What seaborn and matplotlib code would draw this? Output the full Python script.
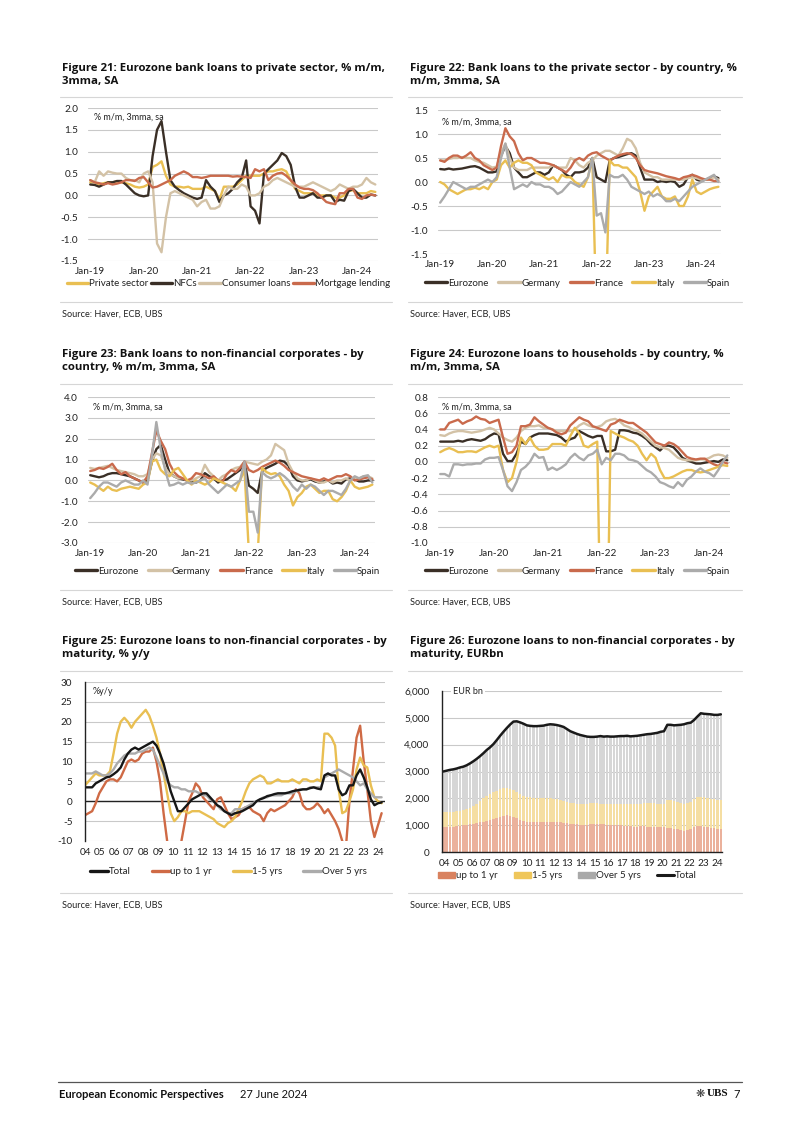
import numpy as np
import pandas as pd
import matplotlib
matplotlib.use('Agg')
import matplotlib.pyplot as plt
import matplotlib.patches as mpatches
from matplotlib.lines import Line2D
import seaborn as sns

sns.set_theme(style='white')
plt.rcParams['font.family'] = ['Lato', 'DejaVu Sans']
plt.rcParams['axes.unicode_minus'] = False

# ---------------- data ----------------
month_ticks = ['Jan-19', 'Jan-20', 'Jan-21', 'Jan-22', 'Jan-23', 'Jan-24']

# Figure 21 (monthly, Jan-19 .. May-24)
f21_names = ['Private sector', 'NFCs', 'Consumer loans', 'Mortgage lending']
f21_private = [0.3, 0.3, 0.25, 0.28, 0.3, 0.3, 0.32, 0.3, 0.28, 0.25, 0.2, 0.18,
               0.2, 0.25, 0.65, 0.7, 0.78, 0.45, 0.25, 0.2, 0.2, 0.18, 0.2, 0.15,
               0.15, 0.15, 0.2, 0.15, 0.1, -0.1, 0.2, 0.2, 0.2, 0.25, 0.35, 0.45,
               0.45, 0.45, 0.45, 0.5, 0.55, 0.55, 0.58, 0.6, 0.55, 0.35, 0.15, 0.1,
               0.05, 0.05, 0.05, 0.0, 0.0, 0.0, 0.0, -0.05, -0.05, 0.0, 0.1, 0.12,
               0.05, 0.05, 0.05, 0.1, 0.08]
f21_nfc = [0.25, 0.24, 0.2, 0.25, 0.3, 0.3, 0.33, 0.33, 0.25, 0.15, 0.05, 0.0,
           -0.02, 0.0, 0.9, 1.5, 1.7, 1.0, 0.35, 0.2, 0.12, 0.05, 0.0, -0.05,
           -0.08, -0.05, 0.35, 0.2, 0.1, -0.15, 0.0, 0.05, 0.15, 0.3, 0.4, 0.8,
           -0.25, -0.35, -0.64, 0.5, 0.6, 0.7, 0.8, 0.97, 0.9, 0.7, 0.2, -0.05,
           -0.05, 0.0, 0.05, -0.05, -0.05, 0.0, 0.0, -0.15, -0.1, -0.12, 0.1, 0.15,
           0.05, -0.05, -0.05, 0.02, 0.0]
f21_consumer = [0.35, 0.3, 0.55, 0.45, 0.55, 0.52, 0.5, 0.5, 0.4, 0.35, 0.35, 0.3,
                0.5, 0.55, 0.3, -1.1, -1.3, -0.5, 0.05, 0.1, 0.05, 0.0, -0.05, -0.1,
                -0.25, -0.15, -0.1, -0.3, -0.3, -0.25, 0.0, 0.2, 0.15, 0.15, 0.25, 0.2,
                0.0, 0.0, 0.05, 0.2, 0.25, 0.35, 0.4, 0.35, 0.3, 0.25, 0.2, 0.2,
                0.2, 0.25, 0.3, 0.25, 0.2, 0.15, 0.1, 0.15, 0.25, 0.2, 0.15, 0.2,
                0.2, 0.25, 0.4, 0.3, 0.25]
f21_mortgage = [0.35, 0.3, 0.28, 0.25, 0.28, 0.25, 0.27, 0.3, 0.35, 0.35, 0.33, 0.4,
                0.42, 0.3, 0.18, 0.2, 0.25, 0.3, 0.35, 0.45, 0.5, 0.55, 0.5, 0.42,
                0.42, 0.4, 0.42, 0.45, 0.45, 0.45, 0.45, 0.45, 0.43, 0.44, 0.43, 0.42,
                0.4, 0.6, 0.55, 0.6, 0.35, 0.45, 0.5, 0.52, 0.45, 0.35, 0.25, 0.18,
                0.15, 0.15, 0.12, 0.05, -0.05, -0.15, -0.18, -0.2, 0.05, 0.05, 0.15, 0.15,
                -0.05, -0.08, 0.0, 0.02, 0.0]

country_names = ['Eurozone', 'Germany', 'France', 'Italy', 'Spain']

# Figure 22
f22_ez = [0.27, 0.26, 0.28, 0.26, 0.27, 0.28, 0.3, 0.32, 0.33, 0.3, 0.25, 0.2,
          0.2, 0.22, 0.55, 0.75, 0.6, 0.3, 0.2, 0.1, 0.1, 0.15, 0.2, 0.2,
          0.15, 0.2, 0.35, 0.3, 0.25, 0.15, 0.1, 0.2, 0.2, 0.22, 0.3, 0.5,
          0.1, 0.05, 0.0, 0.45, 0.5, 0.52, 0.55, 0.58, 0.6, 0.55, 0.3, 0.05,
          0.05, 0.05, 0.0, 0.02, 0.0, 0.02, 0.0, -0.1, -0.05, 0.1, 0.15, 0.05,
          0.02, 0.05, 0.08, 0.12, 0.08]
f22_de = [0.45, 0.45, 0.48, 0.5, 0.5, 0.52, 0.5, 0.5, 0.45, 0.42, 0.4, 0.35,
          0.3, 0.32, 0.6, 0.8, 0.5, 0.3, 0.25, 0.25, 0.25, 0.3, 0.3, 0.3,
          0.3, 0.3, 0.35, 0.3, 0.3, 0.3, 0.5, 0.45, 0.35, 0.3, 0.4, 0.45,
          0.55, 0.6, 0.65, 0.65, 0.6, 0.55, 0.7, 0.9, 0.85, 0.7, 0.4, 0.2,
          0.15, 0.1, 0.1, 0.05, 0.05, 0.05, 0.05, 0.05, 0.05, 0.08, 0.1, 0.08,
          0.05, 0.05, 0.05, 0.1, 0.05]
f22_fr = [0.45, 0.42, 0.5, 0.55, 0.55, 0.5, 0.55, 0.62, 0.5, 0.45, 0.35, 0.3,
          0.25, 0.3, 0.75, 1.12, 0.95, 0.85, 0.6, 0.45, 0.5, 0.5, 0.45, 0.4,
          0.4, 0.38, 0.35, 0.3, 0.25, 0.2, 0.3, 0.45, 0.5, 0.45, 0.55, 0.6,
          0.62, 0.55, 0.5, 0.45, 0.5, 0.55, 0.58, 0.6, 0.58, 0.5, 0.35, 0.25,
          0.22, 0.2, 0.18, 0.15, 0.12, 0.1, 0.08, 0.05, 0.1, 0.12, 0.15, 0.12,
          0.08, 0.05, 0.05, 0.02, 0.02]
f22_it = [0.0, -0.05, -0.15, -0.2, -0.25, -0.2, -0.15, -0.15, -0.12, -0.15, -0.1, -0.15,
          0.0, 0.05, 0.35, 0.45, 0.3, 0.4, 0.45, 0.4, 0.4, 0.35, 0.2, 0.15,
          0.1, 0.05, 0.1, 0.0, 0.15, 0.1, 0.1, 0.0, -0.05, -0.1, 0.1, 0.5,
          -3.0, -3.0, -3.0, 0.45, 0.35, 0.35, 0.3, 0.3, 0.2, 0.1, -0.2, -0.6,
          -0.3, -0.2, -0.1, -0.3, -0.35, -0.35, -0.3, -0.5, -0.5, -0.3, 0.05, -0.2,
          -0.25, -0.2, -0.15, -0.12, -0.1]
f22_es = [-0.43, -0.3, -0.15, 0.0, -0.05, -0.1, -0.15, -0.1, -0.1, -0.05, 0.0, 0.05,
          0.0, 0.1, 0.5, 0.8, 0.3, -0.15, -0.1, -0.05, -0.1, 0.0, -0.05, -0.05,
          -0.1, -0.1, -0.15, -0.25, -0.2, -0.1, 0.0, -0.05, -0.1, 0.0, 0.1, 0.5,
          -0.7, -0.65, -1.05, 0.15, 0.1, 0.1, 0.15, 0.05, -0.1, -0.15, -0.2, -0.25,
          -0.2, -0.3, -0.25, -0.3, -0.4, -0.4, -0.35, -0.4, -0.3, -0.2, -0.1, -0.05,
          0.0, 0.05, 0.1, 0.15, 0.0]

# Figure 23
f23_ez = [0.25, 0.2, 0.15, 0.2, 0.3, 0.35, 0.35, 0.3, 0.25, 0.2, 0.1, 0.0,
          -0.1, 0.0, 0.9, 1.5, 1.7, 1.0, 0.35, 0.2, 0.1, 0.05, 0.0, -0.05,
          -0.1, 0.0, 0.35, 0.2, 0.1, -0.1, 0.0, 0.05, 0.2, 0.35, 0.5, 0.9,
          -0.25, -0.4, -0.6, 0.45, 0.6, 0.7, 0.8, 0.95, 0.9, 0.7, 0.2, 0.0,
          -0.05, 0.0, 0.05, -0.05, -0.1, -0.05, 0.0, -0.15, -0.1, -0.15, 0.05, 0.1,
          0.05, -0.05, -0.05, 0.0, 0.0]
f23_de = [0.6, 0.55, 0.6, 0.65, 0.7, 0.6, 0.5, 0.45, 0.4, 0.35, 0.3, 0.2,
          0.2, 0.3, 1.0, 1.3, 1.2, 0.6, 0.3, 0.2, 0.1, 0.1, 0.0, 0.0,
          0.1, 0.2, 0.75, 0.4, 0.2, 0.0, 0.2, 0.3, 0.5, 0.6, 0.65, 0.9,
          0.85, 0.8, 0.75, 0.9, 1.0, 1.2, 1.75, 1.6, 1.45, 0.8, 0.4, 0.1,
          0.0, 0.0, 0.1, 0.0, -0.1, -0.1, 0.0, -0.1, 0.0, 0.0, 0.1, 0.0,
          0.1, 0.1, 0.2, 0.2, 0.1]
f23_fr = [0.45, 0.5, 0.6, 0.55, 0.65, 0.8, 0.5, 0.3, 0.4, 0.2, 0.1, 0.0,
          -0.1, 0.2, 1.3, 2.4, 1.9, 1.5, 0.8, 0.4, 0.2, 0.1, 0.0, 0.1,
          0.35, 0.3, 0.2, 0.1, 0.2, 0.0, -0.05, 0.3, 0.5, 0.4, 0.6, 0.9,
          0.5, 0.4, 0.5, 0.65, 0.75, 0.85, 0.95, 0.85, 0.7, 0.5, 0.4, 0.3,
          0.2, 0.15, 0.1, 0.05, 0.0, 0.1, 0.0, 0.1, 0.2, 0.2, 0.3, 0.2,
          0.0, 0.05, 0.1, 0.15, 0.05]
f23_it = [-0.1, -0.2, -0.35, -0.5, -0.3, -0.45, -0.5, -0.4, -0.35, -0.3, -0.35, -0.4,
          -0.2, -0.1, 0.9, 1.0, 0.5, 0.3, 0.2, 0.5, 0.6, 0.3, 0.0, -0.2,
          0.0, -0.1, -0.2, -0.1, 0.1, 0.0, -0.1, -0.2, -0.3, -0.5, 0.0, 0.5,
          -3.5, -3.5, -3.5, 0.6, 0.4, 0.3, 0.35, 0.2, -0.2, -0.5, -1.2, -0.8,
          -0.6, -0.3, -0.2, -0.4, -0.6, -0.5, -0.5, -0.9, -1.0, -0.8, -0.5, 0.0,
          -0.3, -0.4, -0.35, -0.3, -0.2]
f23_es = [-0.85, -0.6, -0.3, -0.1, -0.1, -0.2, -0.3, -0.1, 0.0, -0.1, -0.2, -0.2,
          0.0, -0.2, 1.2, 2.8, 1.5, 0.5, -0.25, -0.2, -0.1, -0.2, -0.1, -0.15,
          -0.1, 0.0, 0.1, -0.2, -0.4, -0.6, -0.4, -0.2, -0.3, -0.15, 0.0, 0.9,
          -1.5, -1.5, -2.5, 0.4, 0.2, 0.1, 0.2, 0.35, 0.2, 0.0, -0.3, -0.5,
          -0.2, -0.4, -0.2, -0.3, -0.5, -0.7, -0.5, -0.5, -0.6, -0.7, -0.4, 0.0,
          0.2, 0.1, 0.2, 0.25, -0.1]

# Figure 24
f24_ez = [0.25, 0.25, 0.25, 0.25, 0.26, 0.25, 0.27, 0.28, 0.27, 0.26, 0.28, 0.32,
          0.35, 0.34, 0.1, 0.01, 0.01, 0.1, 0.25, 0.22, 0.3, 0.33, 0.35, 0.35,
          0.35, 0.34, 0.33, 0.3, 0.25, 0.28, 0.3, 0.38, 0.35, 0.32, 0.3, 0.32,
          0.32, 0.13, 0.13, 0.15, 0.39, 0.39, 0.38, 0.36, 0.35, 0.32, 0.28, 0.22,
          0.18, 0.14, 0.2, 0.2, 0.18, 0.12, 0.05, 0.02, 0.0, -0.02, -0.02, -0.01,
          0.0, 0.01, 0.0, 0.03, 0.02]
f24_de = [0.33, 0.32, 0.35, 0.37, 0.38, 0.38, 0.37, 0.36, 0.37, 0.38, 0.4, 0.42,
          0.4, 0.35, 0.3, 0.27, 0.25, 0.3, 0.38, 0.42, 0.44, 0.44, 0.45, 0.42,
          0.42, 0.4, 0.38, 0.38, 0.38, 0.38, 0.4, 0.45, 0.48, 0.45, 0.43, 0.43,
          0.45, 0.5, 0.52, 0.53, 0.5, 0.45, 0.43, 0.4, 0.38, 0.35, 0.3, 0.25,
          0.2, 0.18, 0.17, 0.15, 0.1, 0.05, 0.03, 0.02, 0.02, 0.02, 0.03, 0.03,
          0.05, 0.08, 0.09, 0.08, 0.05]
f24_fr = [0.4, 0.4, 0.48, 0.5, 0.52, 0.47, 0.5, 0.52, 0.56, 0.53, 0.52, 0.48,
          0.5, 0.52, 0.3, 0.1, 0.12, 0.2, 0.44, 0.44, 0.46, 0.55, 0.5, 0.46,
          0.42, 0.4, 0.36, 0.34, 0.36, 0.45, 0.5, 0.55, 0.52, 0.5, 0.44, 0.42,
          0.4, 0.38, 0.46, 0.48, 0.52, 0.5, 0.48, 0.48, 0.44, 0.4, 0.36, 0.3,
          0.24, 0.22, 0.2, 0.24, 0.22, 0.18, 0.12, 0.06, 0.04, 0.03, 0.04, 0.04,
          0.0, -0.03, -0.05, 0.0, -0.02]
f24_it = [0.12, 0.15, 0.17, 0.15, 0.12, 0.12, 0.13, 0.13, 0.12, 0.15, 0.18, 0.2,
          0.18, 0.2, -0.1, -0.25, -0.2, 0.0, 0.3, 0.22, 0.3, 0.2, 0.15, 0.15,
          0.16, 0.22, 0.22, 0.22, 0.2, 0.32, 0.42, 0.35, 0.2, 0.18, 0.22, 0.25,
          -3.0, -3.0, 0.38, 0.35, 0.32, 0.3, 0.27, 0.25, 0.2, 0.1, 0.02, 0.1,
          0.05, -0.1, -0.2, -0.2, -0.18, -0.15, -0.12, -0.1, -0.1, -0.12, -0.13, -0.12,
          -0.1, -0.08, -0.06, -0.04, -0.05]
f24_es = [-0.15, -0.15, -0.18, -0.03, -0.03, -0.04, -0.03, -0.03, -0.02, -0.02, 0.03, 0.05,
          0.05, 0.06, -0.1, -0.3, -0.36, -0.25, -0.1, -0.06, 0.0, 0.1, 0.05, 0.06,
          -0.1, -0.07, -0.1, -0.07, -0.03, 0.05, 0.1, 0.05, 0.02, 0.08, 0.1, 0.15,
          -0.03, 0.05, 0.02, 0.1, 0.1, 0.08, 0.03, 0.02, 0.0, -0.05, -0.1, -0.13,
          -0.18, -0.25, -0.27, -0.3, -0.32, -0.25, -0.3, -0.22, -0.18, -0.12, -0.08, -0.12,
          -0.14, -0.18, -0.1, 0.0, 0.08]

# Figure 25 (% y/y, roughly quarterly from early 2004 to spring 2024)
f25_names = ['Total', 'up to 1 yr', '1-5 yrs', 'Over 5 yrs']
f25_total = [3.5, 3.5, 3.5, 4.5, 5, 5.5, 6, 6.2, 6.8, 7.5, 8.5, 10.5, 12, 13,
             13.5, 13, 13.5, 14, 14.5, 15, 14, 12, 9.5, 6, 2.5, 0,
             -2.5, -2.5, -1.5, -0.5, 0.5, 1, 1.5, 2, 2, 1, 0, -1,
             -1.5, -2.5, -3, -3.5, -3, -2.8, -2.5, -2, -1.5, -1, 0, 0.5,
             0.8, 1.3, 1.5, 1.8, 2, 2, 2, 2.2, 2.5, 2.7, 2.8, 3,
             3, 3.3, 3.5, 3.2, 3, 6.5, 7, 6.5, 6.5, 3, 1.5, 2,
             4, 4, 6.5, 8, 6, 3.5, 0.5, -1, -0.5, -0.3]
f25_short = [-3.5, -3, -2.5, -0.5, 2, 3.5, 5, 5.5, 5.5, 5, 6, 8, 10, 10.5,
             10, 10.5, 12, 12.5, 12.5, 13.5, 10, 5, -3, -10, -13, -13,
             -13, -10, -5, 0, 2, 4.5, 3.5, 1, 0, -1, -2, 0.5,
             1, -1, -3, -4.5, -4, -3.5, -2, -1.5, -1.5, -2.5, -3, -3.5,
             -5, -3, -2, -2.5, -2, -1.5, -1, 0, 1, 3, 2, -1,
             -2, -2, -1.5, -0.5, -1.5, -3, -2, -3.5, -5, -7, -10, -12,
             0, 8, 16, 19, 10, 3, -5, -9, -6, -3]
f25_mid = [4, 5, 6, 7, 6.5, 6.5, 6.5, 7.5, 12, 17, 20, 21, 20, 18.5,
           20, 21, 22, 23, 21.5, 19, 16, 12, 7, 2, -3, -5,
           -4, -2.5, -2.5, -3, -2.5, -2.5, -2.5, -3, -3.5, -4, -4.5, -5.5,
           -6, -6.5, -5.5, -5, -4, -2, 0, 2.5, 4.5, 5.5, 6, 6.5,
           6, 4.5, 4.5, 5, 5.5, 5, 5, 5, 5.5, 5, 4.5, 5.5,
           5.5, 5, 5, 5.5, 5, 17, 17, 16, 14, 3, -3, -2.5,
           0, 3, 8, 11, 9, 8.5, 4, 1, 0, -0.5]
f25_long = [7, 7, 7, 7.5, 7, 6.5, 6.5, 7, 8, 9.5, 10.5, 11.5, 12, 12,
            12, 12.5, 12.5, 13, 13.5, 13, 11, 9, 7, 5, 4, 3.5,
            3.5, 3, 3, 2.5, 2.5, 2.5, 2, 1.5, 1.5, 0.5, 0, -1,
            -2, -2.5, -3, -3, -2, -2, -2, -1.5, -1, -0.5, 0, 0.5,
            1, 1, 1.5, 1.5, 1.5, 1.5, 2, 2, 2, 2.5, 3, 3,
            3, 3.5, 3.5, 3.5, 3.5, 6, 6.5, 7, 7.5, 8, 7.5, 7,
            6.5, 6, 5, 4, 4.5, 3, 2, 1, 1, 1]
f25_dates = pd.date_range('2004-01-01', '2024-04-01', periods=len(f25_total))

# Figure 26 (EUR bn)
f26_short = [950, 940, 930, 950, 970, 980, 1000, 1010, 1030, 1050, 1080, 1100, 1130, 1160,
             1200, 1240, 1280, 1320, 1350, 1370, 1360, 1320, 1250, 1180, 1140, 1120,
             1110, 1100, 1100, 1110, 1120, 1130, 1130, 1120, 1110, 1100, 1090, 1080,
             1060, 1050, 1030, 1020, 1010, 1010, 1030, 1050, 1060, 1040, 1030, 1020,
             1010, 1000, 990, 990, 980, 970, 960, 950, 950, 960, 960, 950,
             950, 940, 940, 930, 920, 900, 880, 860, 840, 820, 800, 820,
             860, 920, 960, 980, 950, 920, 900, 880, 870, 860]
f26_mid = [550, 550, 550, 550, 550, 560, 570, 590, 620, 670, 720, 800, 870, 920,
           950, 980, 1000, 1020, 1030, 1010, 990, 980, 990, 980, 960, 940,
           930, 920, 910, 890, 890, 890, 880, 870, 850, 830, 810, 790,
           780, 760, 760, 760, 770, 790, 790, 770, 750, 760, 760, 760,
           770, 780, 790, 790, 800, 820, 830, 840, 850, 840, 850, 870,
           870, 870, 860, 870, 880, 1020, 1040, 1040, 1030, 1020, 1000, 1000,
           1020, 1040, 1080, 1080, 1090, 1080, 1080, 1080, 1080, 1090]
f26_long = [1500, 1540, 1580, 1580, 1590, 1610, 1610, 1630, 1650, 1660, 1670, 1670, 1680, 1720,
            1750, 1800, 1890, 1990, 2100, 2240, 2400, 2560, 2630, 2670, 2680, 2660,
            2660, 2670, 2680, 2700, 2700, 2720, 2750, 2760, 2770, 2770, 2760, 2710,
            2660, 2640, 2610, 2580, 2550, 2500, 2470, 2470, 2490, 2520, 2510, 2530,
            2520, 2520, 2530, 2540, 2540, 2540, 2520, 2530, 2530, 2550, 2560, 2570,
            2580, 2610, 2640, 2680, 2700, 2820, 2820, 2820, 2860, 2900, 2960, 2980,
            2940, 2960, 3010, 3110, 3110, 3140, 3150, 3150, 3160, 3180]
f26_total = [3000, 3030, 3060, 3080, 3110, 3150, 3180, 3230, 3300, 3380, 3470, 3570, 3680, 3800,
             3900, 4020, 4170, 4330, 4480, 4620, 4750, 4860, 4870, 4830, 4780, 4720,
             4700, 4690, 4690, 4700, 4710, 4740, 4760, 4750, 4730, 4700, 4660, 4580,
             4500, 4450, 4400, 4360, 4330, 4300, 4290, 4290, 4300, 4320, 4300, 4310,
             4300, 4300, 4310, 4320, 4320, 4330, 4310, 4320, 4330, 4350, 4370, 4390,
             4400, 4420, 4440, 4480, 4500, 4740, 4740, 4720, 4730, 4740, 4760, 4800,
             4820, 4920, 5050, 5170, 5150, 5140, 5130, 5110, 5110, 5130]
f26_dates = pd.date_range('2003-11-15', '2024-04-15', periods=len(f26_total))
year_labels = ['%02d' % y for y in range(4, 25)]

# ---------------- styling ----------------
YELLOW = '#E9BF52'
DARK = '#3A2F26'
BEIGE = '#D3C2A6'
RED = '#C96A4C'
GREY = '#ABABAB'
GRID = '#C9C9C9'
TXT = '#222222'
LW = 1.7
TITLE_FONT = ['Open Sans', 'Lato', 'DejaVu Sans']

W, H = 802, 1134
fig = plt.figure(figsize=(W / 100, H / 100), dpi=100)


def fx(x):
    return x / W


def fy(y):
    return 1 - y / H


def px_axes(l, t, r, b):
    return fig.add_axes([fx(l), fy(b), (r - l) / W, (b - t) / H])


def decimal_year(d):
    return np.asarray(d.year + (d.dayofyear - 1) / 365.25, dtype=float)


def hline(x0, x1, y, color='#D6D6D6', lw=0.8):
    fig.add_artist(Line2D([fx(x0), fx(x1)], [fy(y), fy(y)], color=color, lw=lw))


def block_text(x0, x1, ytitle, title, ysep1, ysep2, ysrc):
    fig.text(fx(x0 + 2), fy(ytitle), title, fontsize=8.2, fontweight='bold',
             color='#111111', va='top', linespacing=1.25, family=TITLE_FONT)
    hline(x0, x1, ysep1)
    hline(x0, x1, ysep2)
    fig.text(fx(x0 + 2), fy(ysrc), 'Source: Haver, ECB, UBS', fontsize=6.6,
             color=TXT, va='center')


def line_legend(names, colors, x0, cy, colsp, hl=2.3):
    handles = [Line2D([], [], color=c, lw=2.4) for c in colors]
    fig.legend(handles, names, loc='center left', bbox_to_anchor=(fx(x0), fy(cy)),
               ncol=len(names), frameon=False, fontsize=7, handlelength=hl,
               handletextpad=0.1, columnspacing=colsp, borderaxespad=0,
               borderpad=0, labelcolor=TXT)


def monthly_panel(ax, names, series, colors, ylim, step, unit_xy):
    df = pd.DataFrame({n: s for n, s in zip(names, series)})
    df['m'] = np.arange(len(df))
    long = df.melt(id_vars='m', var_name='series', value_name='v')
    sns.lineplot(data=long, x='m', y='v', hue='series', hue_order=names,
                 palette=dict(zip(names, colors)), estimator=None,
                 linewidth=LW, ax=ax, legend=False)
    ax.set_xlim(-0.5, 64.6)
    ax.set_ylim(*ylim)
    ticks = np.round(np.arange(ylim[0], ylim[1] + step / 2, step), 2)
    ax.set_yticks(ticks)
    ax.set_yticklabels(['%.1f' % (t + 0.0) if abs(t) > 1e-9 else '0.0' for t in ticks])
    ax.set_xticks(np.arange(0, 61, 12))
    ax.set_xticklabels(month_ticks)
    ax.grid(axis='y', color=GRID, lw=0.8)
    ax.grid(axis='x', visible=False)
    for s in ax.spines.values():
        s.set_visible(False)
    ax.tick_params(axis='both', length=0, labelsize=7.2, colors=TXT)
    ax.tick_params(axis='y', pad=7)
    ax.tick_params(axis='x', pad=4)
    ax.set_xlabel('')
    ax.set_ylabel('')
    fig.text(fx(unit_xy[0]), fy(unit_xy[1]), '% m/m, 3mma, sa', fontsize=6.5,
             color=TXT, va='center')


# ---------------- Figure 21 ----------------
ax21 = px_axes(88, 108, 378, 261)
f21_colors = [YELLOW, DARK, BEIGE, RED]
monthly_panel(ax21, f21_names, [f21_private, f21_nfc, f21_consumer, f21_mortgage],
              f21_colors, (-1.5, 2.0), 0.5, (94, 117))
block_text(60, 392, 63, 'Figure 21: Eurozone bank loans to private sector, % m/m,\n3mma, SA',
           97, 302, 314)
line_legend(f21_names, f21_colors, 67, 284, 0.25, hl=2.2)

# ---------------- Figure 22 ----------------
country_colors = [DARK, BEIGE, RED, YELLOW, GREY]
ax22 = px_axes(438, 110, 721, 254)
monthly_panel(ax22, country_names, [f22_ez, f22_de, f22_fr, f22_it, f22_es],
              country_colors, (-1.5, 1.5), 0.5, (442, 122))
block_text(408, 742, 63, 'Figure 22: Bank loans to the private sector - by country, %\nm/m, 3mma, SA',
           97, 302, 314)
line_legend(country_names, country_colors, 425, 283, 1.0)

# ---------------- Figure 23 ----------------
ax23 = px_axes(88, 397, 375, 543)
monthly_panel(ax23, country_names, [f23_ez, f23_de, f23_fr, f23_it, f23_es],
              country_colors, (-3.0, 4.0), 1.0, (93, 407))
block_text(60, 392, 349, 'Figure 23: Bank loans to non-financial corporates - by\ncountry, % m/m, 3mma, SA',
           384, 590, 602)
line_legend(country_names, country_colors, 75, 571, 1.0)

# ---------------- Figure 24 ----------------
ax24 = px_axes(438, 397, 730, 543)
monthly_panel(ax24, country_names, [f24_ez, f24_de, f24_fr, f24_it, f24_es],
              country_colors, (-1.0, 0.8), 0.2, (442, 407))
block_text(408, 742, 349, 'Figure 24: Eurozone loans to households - by country, %\nm/m, 3mma, SA',
           384, 590, 602)
line_legend(country_names, country_colors, 425, 571, 1.0)

# ---------------- Figure 25 ----------------
ax25 = px_axes(85, 682, 385, 841)
f25_colors = ['#161616', '#CF6A45', YELLOW, GREY]
df25 = pd.DataFrame({'x': decimal_year(f25_dates), 'Total': f25_total,
                     'up to 1 yr': f25_short, '1-5 yrs': f25_mid,
                     'Over 5 yrs': f25_long})
long25 = df25.melt(id_vars='x', var_name='series', value_name='v')
order25 = ['up to 1 yr', '1-5 yrs', 'Over 5 yrs', 'Total']
sns.lineplot(data=long25, x='x', y='v', hue='series', hue_order=order25,
             palette=dict(zip(f25_names, f25_colors)), estimator=None,
             linewidth=LW, ax=ax25, legend=False)
ax25.axhline(0, color='#222222', lw=1.0, zorder=1)
ax25.set_xlim(2004.0, 2024.48)
ax25.set_ylim(-10, 30)
ax25.set_yticks(range(-10, 31, 5))
ax25.set_xticks(range(2004, 2025))
ax25.set_xticklabels(year_labels)
ax25.grid(axis='y', color=GRID, lw=0.8)
ax25.grid(axis='x', visible=False)
for k in ('top', 'right', 'bottom'):
    ax25.spines[k].set_color('none')
ax25.spines['left'].set_color('#222222')
ax25.spines['left'].set_linewidth(1.0)
ax25.tick_params(axis='both', length=0, labelsize=7.2, colors=TXT)
ax25.tick_params(axis='y', pad=9)
ax25.tick_params(axis='x', pad=5)
ax25.set_xlabel('')
ax25.set_ylabel('')
fig.text(fx(93), fy(692), '%y/y', fontsize=6.5, color=TXT, va='center')
block_text(60, 392, 636, 'Figure 25: Eurozone loans to non-financial corporates - by\nmaturity, % y/y',
           671, 893, 905)
line_legend(f25_names, f25_colors, 90, 872, 2.2, hl=1.8)

# ---------------- Figure 26 ----------------
ax26 = px_axes(442, 691, 722, 852)
x26 = decimal_year(f26_dates)
bar_w = 0.19
bar_cols = ['#EBB19C', '#F5DEA2', '#D6D6D6']
ax26.bar(x26, f26_short, width=bar_w, color=bar_cols[0], lw=0)
ax26.bar(x26, f26_mid, width=bar_w, bottom=f26_short, color=bar_cols[1], lw=0)
ax26.bar(x26, f26_long, width=bar_w, bottom=np.add(f26_short, f26_mid),
         color=bar_cols[2], lw=0)
sns.lineplot(x=x26, y=f26_total, color='#1A1A1A', linewidth=1.8, ax=ax26)
ax26.set_xlim(2003.78, 2024.37)
ax26.set_ylim(0, 6000)
ax26.set_yticks(range(0, 6001, 1000))
ax26.set_yticklabels(['{:,}'.format(v) for v in range(0, 6001, 1000)])
ax26.set_xticks(range(2004, 2025))
ax26.set_xticklabels(year_labels)
ax26.grid(axis='y', color=GRID, lw=0.8)
ax26.grid(axis='x', visible=False)
ax26.set_axisbelow(True)
for k, s in ax26.spines.items():
    s.set_visible(k in ('left', 'bottom'))
    s.set_color('#222222')
    s.set_linewidth(1.0)
ax26.tick_params(axis='both', length=0, labelsize=7.2, colors=TXT)
ax26.tick_params(axis='y', pad=9)
ax26.tick_params(axis='x', pad=5)
ax26.set_xlabel('')
ax26.set_ylabel('')
fig.text(fx(453), fy(691), 'EUR bn', fontsize=6.5, color=TXT, va='center',
         bbox=dict(facecolor='white', edgecolor='none', pad=1.5))
block_text(408, 742, 636, 'Figure 26: Eurozone loans to non-financial corporates - by\nmaturity, EURbn',
           671, 893, 905)
f26_handles = [mpatches.Patch(color='#D9825F'), mpatches.Patch(color='#EFC65A'),
               mpatches.Patch(color='#A9A9A9'), Line2D([], [], color='#1A1A1A', lw=2.2)]
fig.legend(f26_handles, ['up to 1 yr', '1-5 yrs', 'Over 5 yrs', 'Total'], loc='center left',
           bbox_to_anchor=(fx(438), fy(876)), ncol=4, frameon=False, fontsize=7,
           handlelength=1.75, handleheight=0.6, handletextpad=0.15, columnspacing=1.6,
           borderaxespad=0, borderpad=0, labelcolor=TXT)

# ---------------- footer ----------------
hline(58, 742, 1082, color='#555555', lw=0.9)
fig.text(fx(59), fy(1094), 'European Economic Perspectives', fontsize=8,
         fontweight='bold', color='#111111', va='center')
fig.text(fx(240), fy(1094), '27 June 2024', fontsize=8, color='#111111', va='center')
fig.text(fx(740), fy(1094), '7', fontsize=8, color='#111111', va='center', ha='right')
fig.text(fx(728), fy(1094), 'UBS', fontsize=8, color='#111111', va='center',
         ha='right', family=['Liberation Serif', 'DejaVu Serif'], fontweight='bold')
fig.text(fx(705), fy(1094), '\u274b', fontsize=8, color='#333333', va='center',
         ha='right', family=['DejaVu Sans'])

fig.savefig('out.png', dpi=100, facecolor='white')
